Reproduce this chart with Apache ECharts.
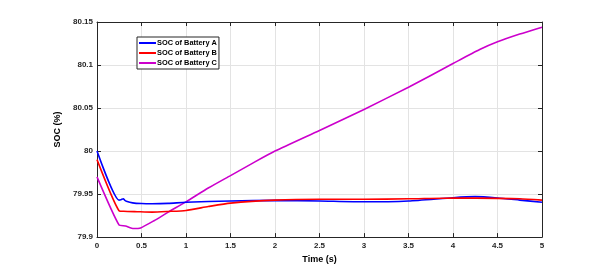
<!DOCTYPE html>
<html>
<head>
<meta charset="utf-8">
<script src="https://cdn.jsdelivr.net/npm/echarts@6/dist/echarts.min.js"></script>
<style>
html,body{margin:0;padding:0;background:#fff;}
#c{width:599px;height:269px;}
</style>
</head>
<body>
<div id="c"></div>
<script>
var seriesNames = ['SOC of Battery A', 'SOC of Battery B', 'SOC of Battery C'];
var xTicks = [0, 0.5, 1, 1.5, 2, 2.5, 3, 3.5, 4, 4.5, 5];
var yTicks = [79.9, 79.95, 80, 80.05, 80.1, 80.15];

var timeA = [0, 0.247, 0.27, 0.296, 0.31, 0.33, 0.4, 0.5, 0.62, 0.8, 1.0, 1.5, 2.0, 2.5, 3.0, 3.5, 4.0, 4.25, 4.5, 4.75, 5.0];
var socA  = [80.0, 79.943, 79.9435, 79.9445, 79.943, 79.9417, 79.9398, 79.939, 79.9388, 79.9392, 79.9405, 79.942, 79.9427, 79.942, 79.941, 79.942, 79.9458, 79.947, 79.9455, 79.943, 79.9405];

var timeB = [0, 0.247, 0.3, 0.45, 0.62, 0.8, 1.0, 1.25, 1.5, 2.0, 2.5, 3.0, 3.5, 4.0, 4.5, 4.75, 5.0];
var socB  = [79.990, 79.9307, 79.930, 79.9295, 79.929, 79.9298, 79.931, 79.9355, 79.9395, 79.943, 79.944, 79.944, 79.9445, 79.9455, 79.945, 79.9445, 79.943];

var timeC = [0, 0.247, 0.32, 0.41, 0.49, 0.64, 0.8, 1.0, 1.25, 1.5, 1.75, 2.0, 2.5, 3.0, 3.5, 4.0, 4.3, 4.5, 4.75, 5.0];
var socC  = [79.970, 79.9142, 79.913, 79.910, 79.9107, 79.919, 79.929, 79.941, 79.957, 79.9715, 79.986, 80.000, 80.024, 80.0484, 80.0742, 80.1017, 80.118, 80.127, 80.136, 80.144];

var colors = ['#0000ff', '#ff0000', '#cc00cc'];

function zip(t, v) { return t.map(function (x, i) { return [x, v[i]]; }); }

var tickColor = '#262626';
var fontFam = '"Liberation Sans", Arial, sans-serif';
function fmtY(v) { return String(parseFloat(v.toFixed(2))); }
function fmtX(v) { return String(parseFloat(v.toFixed(1))); }

var chart = echarts.init(document.getElementById('c'), null, {renderer: 'canvas'});
chart.setOption({
  animation: false,
  backgroundColor: '#ffffff',
  grid: {left: 97, right: 57, top: 22, bottom: 30, containLabel: false},
  legend: {
    data: seriesNames.map(function (n) { return {name: n, icon: 'rect'}; }),
    orient: 'vertical',
    left: 137, top: 37,
    itemWidth: 17, itemHeight: 2, itemGap: 2,
    padding: [2, 2, 2, 2],
    borderColor: '#262626', borderWidth: 1,
    backgroundColor: '#ffffff',
    textStyle: {fontFamily: fontFam, fontWeight: 'bold', fontSize: 7.4, color: '#000', padding: [0, 0, 0, -4], lineHeight: 8}
  },
  xAxis: [{
    type: 'value', min: xTicks[0], max: xTicks[xTicks.length - 1], interval: 0.5,
    name: 'Time (s)', nameLocation: 'middle', nameGap: 17,
    nameTextStyle: {fontFamily: fontFam, fontWeight: 'bold', fontSize: 9, color: '#000'},
    axisLine: {show: true, onZero: false, lineStyle: {color: tickColor, width: 1}},
    axisTick: {show: true, inside: true, length: 4, lineStyle: {color: tickColor}},
    axisLabel: {fontFamily: fontFam, fontWeight: 'bold', fontSize: 8, color: tickColor, margin: 5, formatter: fmtX},
    splitLine: {show: true, lineStyle: {color: '#e3e3e3', width: 1}}
  }, {
    type: 'value', position: 'top', min: xTicks[0], max: xTicks[xTicks.length - 1], interval: 0.5,
    axisLine: {show: true, onZero: false, lineStyle: {color: tickColor, width: 1}},
    axisTick: {show: true, inside: true, length: 4, lineStyle: {color: tickColor}},
    axisLabel: {show: false},
    splitLine: {show: false}
  }],
  yAxis: [{
    type: 'value', min: yTicks[0], max: yTicks[yTicks.length - 1], interval: 0.05,
    name: 'SOC (%)', nameLocation: 'middle', nameGap: 29,
    nameTextStyle: {fontFamily: fontFam, fontWeight: 'bold', fontSize: 9, color: '#000'},
    axisLine: {show: true, onZero: false, lineStyle: {color: tickColor, width: 1}},
    axisTick: {show: true, inside: true, length: 4, lineStyle: {color: tickColor}},
    axisLabel: {fontFamily: fontFam, fontWeight: 'bold', fontSize: 8, color: tickColor, margin: 4, formatter: fmtY},
    splitLine: {show: true, lineStyle: {color: '#e3e3e3', width: 1}}
  }, {
    type: 'value', position: 'right', min: yTicks[0], max: yTicks[yTicks.length - 1], interval: 0.05,
    axisLine: {show: true, onZero: false, lineStyle: {color: tickColor, width: 1}},
    axisTick: {show: true, inside: true, length: 4, lineStyle: {color: tickColor}},
    axisLabel: {show: false},
    splitLine: {show: false}
  }],
  series: [
    {name: seriesNames[0], type: 'line', data: zip(timeA, socA), z: 2},
    {name: seriesNames[1], type: 'line', data: zip(timeB, socB), z: 3},
    {name: seriesNames[2], type: 'line', data: zip(timeC, socC), z: 1}
  ].map(function (s, i) {
    s.showSymbol = false; s.symbol = 'none';
    s.smooth = 0.2;
    s.color = colors[i];
    s.lineStyle = {color: colors[i], width: 1.6};
    return s;
  })
});
</script>
</body>
</html>
